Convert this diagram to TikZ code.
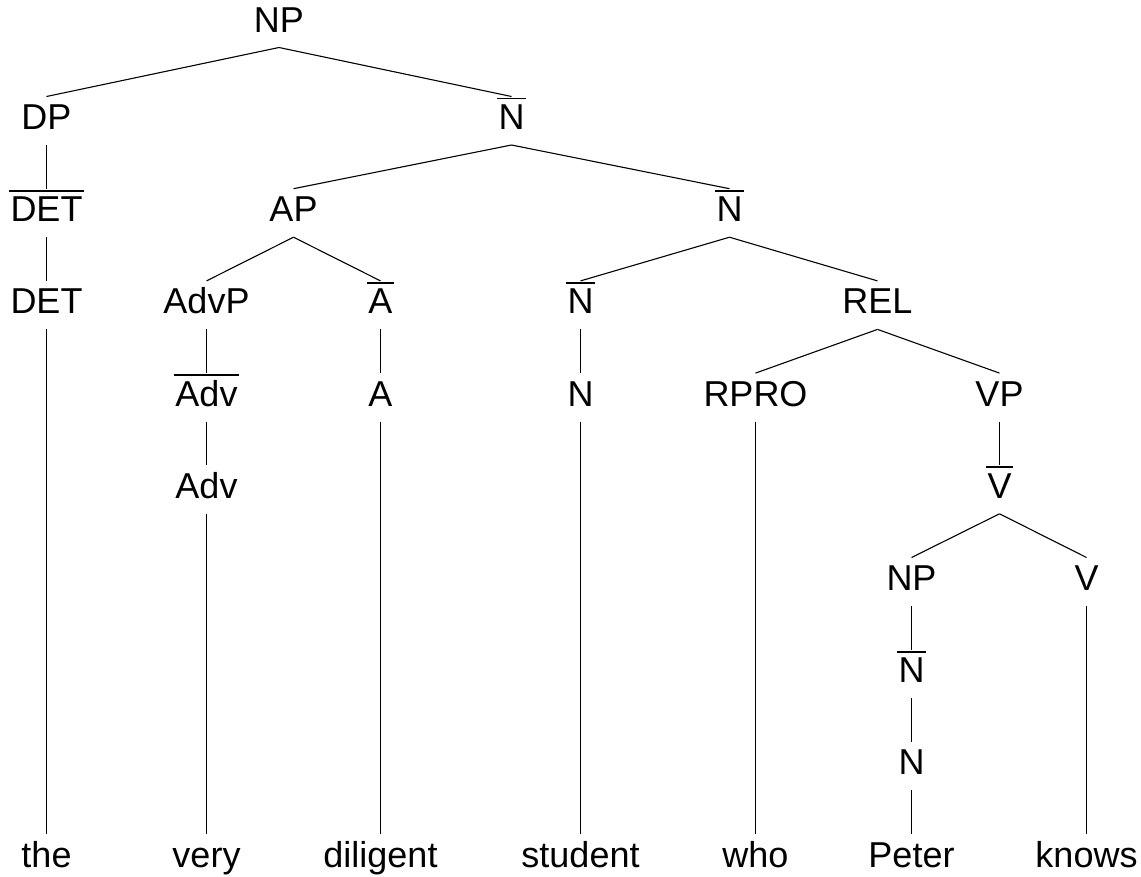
\documentclass[tikz,border=0pt]{standalone}
\usepackage{fontspec}
\setmainfont{Liberation Sans}
\begin{document}
\begin{tikzpicture}[x=1pt,y=-1pt,
  lbl/.style={inner sep=0pt,outer sep=0pt,anchor=base,font=\fontsize{36}{40}\selectfont},
  branch/.style={line width=1.1pt,black},
  barline/.style={line width=1.7pt,black}]
\useasboundingbox (0,0) rectangle (1141,876);

% row 0
\node[lbl] (np) at (279,32) {NP};
% row 1
\node[lbl] (dp) at (46.5,129.5) {DP};
\node[lbl] (nbarA) at (511.5,129.5) {N};
% row 2
\node[lbl] (detbar) at (46.5,221.7) {DET};
\node[lbl] (ap) at (293.5,221.7) {AP};
\node[lbl] (nbarB) at (729.5,221.7) {N};
% row 3
\node[lbl] (det) at (46.5,313.9) {DET};
\node[lbl] (advp) at (206.5,313.9) {AdvP};
\node[lbl] (abar) at (380.5,313.9) {A};
\node[lbl] (nbarC) at (580.5,313.9) {N};
\node[lbl] (rel) at (877.5,313.9) {REL};
% row 4
\node[lbl] (advbar) at (206.5,406.1) {Adv};
\node[lbl] (a) at (380.5,406.1) {A};
\node[lbl] (nC) at (580.5,406.1) {N};
\node[lbl] (rpro) at (755.5,406.1) {RPRO};
\node[lbl] (vp) at (999.5,406.1) {VP};
% row 5
\node[lbl] (adv) at (206.5,498.3) {Adv};
\node[lbl] (vbar) at (999.5,498.3) {V};
% row 6
\node[lbl] (npB) at (911.5,590.5) {NP};
\node[lbl] (v) at (1086.5,590.5) {V};
% row 7
\node[lbl] (nbarD) at (911.5,682.7) {N};
% row 8
\node[lbl] (nD) at (911.5,774.9) {N};
% row 9: the words
\node[lbl] (the) at (46.5,867.1) {the};
\node[lbl] (very) at (206.5,867.1) {very};
\node[lbl] (diligent) at (380.5,867.1) {diligent};
\node[lbl] (student) at (580.5,867.1) {student};
\node[lbl] (who) at (755.5,867.1) {who};
\node[lbl] (peter) at (911.5,867.1) {Peter};
\node[lbl] (knows) at (1086.5,867.1) {knows};

% bars over the intermediate projections
\foreach \n in {nbarA,detbar,nbarB,abar,nbarC,advbar,vbar,nbarD}
  \draw[barline] ([xshift=-1.5pt,yshift=31pt]\n.base west) -- ([xshift=1.5pt,yshift=31pt]\n.base east);

% branches: parent/child
\foreach \p/\c in {np/dp,np/nbarA,dp/detbar,detbar/det,det/the,
  nbarA/ap,nbarA/nbarB,ap/advp,ap/abar,advp/advbar,advbar/adv,adv/very,
  abar/a,a/diligent,nbarB/nbarC,nbarB/rel,nbarC/nC,nC/student,
  rel/rpro,rel/vp,rpro/who,vp/vbar,vbar/npB,vbar/v,
  npB/nbarD,nbarD/nD,nD/peter,v/knows}
  \draw[branch] ([yshift=-15.5pt]\p.base) -- ([yshift=33pt]\c.base);
\end{tikzpicture}
\end{document}
